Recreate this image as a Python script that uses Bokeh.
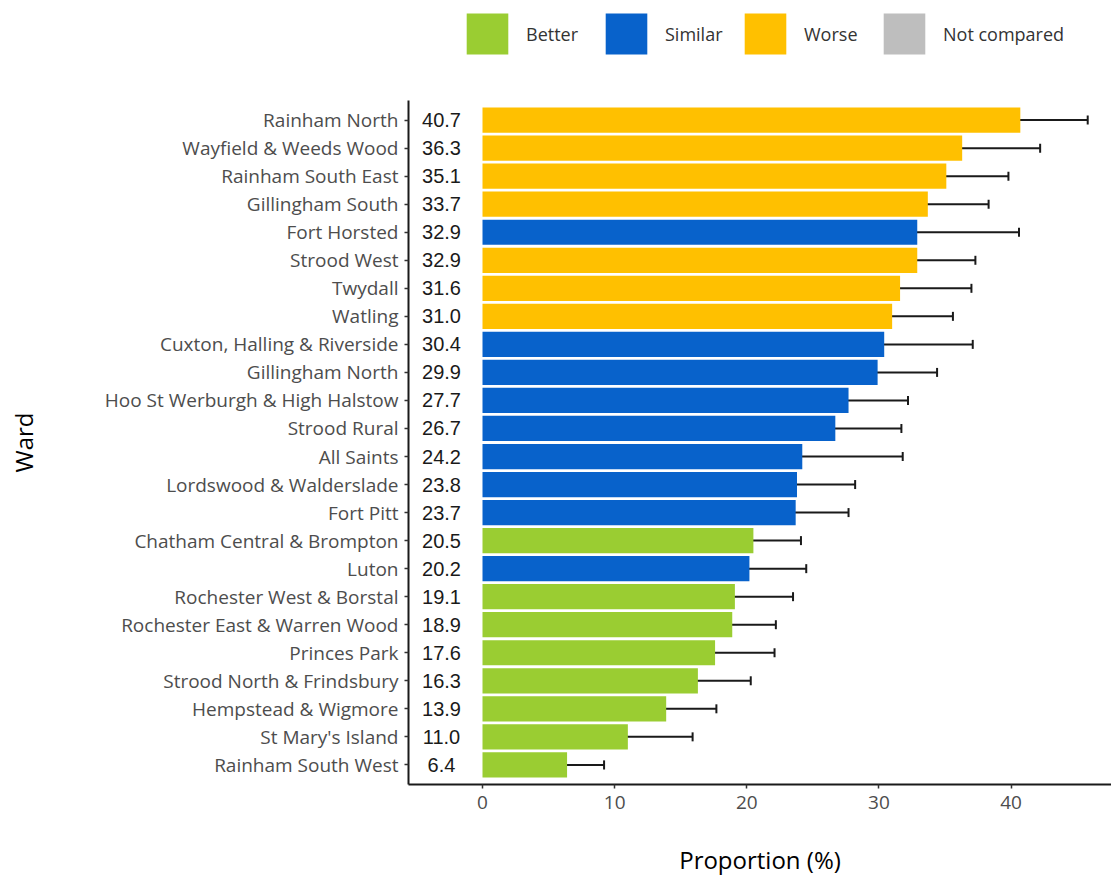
from bokeh.plotting import figure
from bokeh.layouts import column
from bokeh.models import (FactorRange, Range1d, Whisker, TeeHead, ColumnDataSource,
                          Legend, LegendItem, FixedTicker)
from bokeh.embed import file_html
from bokeh.resources import INLINE

wards = ["Rainham North", "Wayfield & Weeds Wood", "Rainham South East", "Gillingham South",
         "Fort Horsted", "Strood West", "Twydall", "Watling", "Cuxton, Halling & Riverside",
         "Gillingham North", "Hoo St Werburgh & High Halstow", "Strood Rural", "All Saints",
         "Lordswood & Walderslade", "Fort Pitt", "Chatham Central & Brompton", "Luton",
         "Rochester West & Borstal", "Rochester East & Warren Wood", "Princes Park",
         "Strood North & Frindsbury", "Hempstead & Wigmore", "St Mary's Island",
         "Rainham South West"]
proportion = [40.7, 36.3, 35.1, 33.7, 32.9, 32.9, 31.6, 31.0, 30.4, 29.9, 27.7, 26.7, 24.2,
              23.8, 23.7, 20.5, 20.2, 19.1, 18.9, 17.6, 16.3, 13.9, 11.0, 6.4]
lower_ci = [35.9, 30.5, 30.6, 29.3, 25.7, 28.5, 26.4, 26.6, 24.1, 25.4, 23.2, 21.9, 17.0,
            19.6, 19.9, 16.9, 15.9, 15.0, 15.7, 13.3, 12.6, 10.3, 6.6, 3.9]
upper_ci = [45.8, 42.2, 39.8, 38.3, 40.6, 37.3, 37.0, 35.6, 37.1, 34.4, 32.2, 31.7, 31.8,
            28.2, 27.7, 24.1, 24.5, 23.5, 22.2, 22.1, 20.3, 17.7, 15.9, 9.2]
comparison = ["Worse", "Worse", "Worse", "Worse", "Similar", "Worse", "Worse", "Worse",
              "Similar", "Similar", "Similar", "Similar", "Similar", "Similar", "Similar",
              "Better", "Similar", "Better", "Better", "Better", "Better", "Better", "Better",
              "Better"]
categories = ["Better", "Similar", "Worse", "Not compared"]
colors = ["#9ACD32", "#0862CB", "#FFC000", "#BEBEBE"]
x_ticks = [0, 10, 20, 30, 40]

# ---- legend strip (top) ----
lg = figure(width=1111, height=100, x_range=Range1d(0, 1), y_range=Range1d(0, 1),
            output_backend="svg", toolbar_location=None, min_border=0,
            x_axis_location=None, y_axis_location=None)
lg.outline_line_color = None
lg.xgrid.visible = False
lg.ygrid.visible = False
lg.background_fill_color = "white"
lg.border_fill_color = "white"

items = []
for cat, col in zip(categories, colors):
    # zero-area key renderer: only used to draw the legend swatch
    r = lg.hbar(y=[0], left=[0], right=[0], height=0, fill_color=col, line_color=None)
    items.append(LegendItem(label=cat, renderers=[r]))

legend = Legend(items=items, orientation="horizontal", location=(53, 41),
                glyph_width=52, glyph_height=51, label_standoff=13, label_width=74,
                spacing=0, padding=0, margin=0, border_line_color=None,
                background_fill_alpha=0, label_text_font="Open Sans",
                label_text_font_size="18px", label_text_color="#333333", label_height=51)
lg.add_layout(legend, "center")

# ---- main chart ----
p = figure(width=1111, height=779,
           y_range=FactorRange(factors=list(reversed(wards)), range_padding=0.2,
                               range_padding_units="absolute"),
           x_range=Range1d(-5.6, 47.6),
           output_backend="svg", toolbar_location=None,
           min_border_left=408, min_border_right=0, min_border_top=0, min_border_bottom=95)
p.background_fill_color = "white"
p.border_fill_color = "white"
p.outline_line_color = None
p.xgrid.visible = False
p.ygrid.visible = False

for cat, col in zip(categories, colors):
    idx = [i for i, c in enumerate(comparison) if c == cat]
    src = ColumnDataSource(dict(ward=[wards[i] for i in idx],
                                proportion=[proportion[i] for i in idx]))
    p.hbar(y="ward", left=0, right="proportion", height=0.9, source=src,
           fill_color=col, line_color=None)

err_src = ColumnDataSource(dict(ward=wards, lower=lower_ci, upper=upper_ci))
whisk = Whisker(source=err_src, base="ward", lower="lower", upper="upper", dimension="width",
                line_color="#1a1a1a", line_width=2,
                upper_head=TeeHead(size=9, line_width=2, line_color="#1a1a1a"),
                lower_head=TeeHead(size=9, line_width=2, line_color="#1a1a1a"))
p.add_layout(whisk)

lab_src = ColumnDataSource(dict(ward=wards, x=[0] * len(wards),
                                label=[f"{v:.1f}" for v in proportion]))
p.text(x="x", y="ward", text="label", source=lab_src, x_offset=-41,
       text_align="center", text_baseline="middle", text_font_size="20px",
       text_font={"value": "Liberation Sans"}, text_color="#1a1a1a")

p.xaxis.ticker = FixedTicker(ticks=x_ticks)
for ax in (p.xaxis[0], p.yaxis[0]):
    ax.axis_line_color = "#1a1a1a"
    ax.axis_line_width = 2
    ax.major_tick_line_color = "#333333"
    ax.major_tick_line_width = 1.5
    ax.major_tick_out = 4
    ax.major_tick_in = 0
    ax.minor_tick_line_color = None
    ax.major_label_text_font = "Open Sans"
    ax.major_label_text_color = "#4D4D4D"
    ax.axis_label_text_font = "Open Sans"
    ax.axis_label_text_font_style = "normal"
    ax.axis_label_text_color = "#000000"
    ax.axis_label_text_font_size = "24px"
p.yaxis.major_label_text_font_size = "19px"
p.xaxis.major_label_text_font_size = "19px"
p.yaxis.axis_label = "Ward"
p.xaxis.axis_label = "Proportion (%)"
p.yaxis.major_label_standoff = 6
p.xaxis.major_label_standoff = 7
p.xaxis.axis_label_standoff = 31
p.yaxis.axis_label_standoff = 62

layout = column(lg, p, spacing=0)
open("out.html", "w").write(file_html(layout, INLINE))
